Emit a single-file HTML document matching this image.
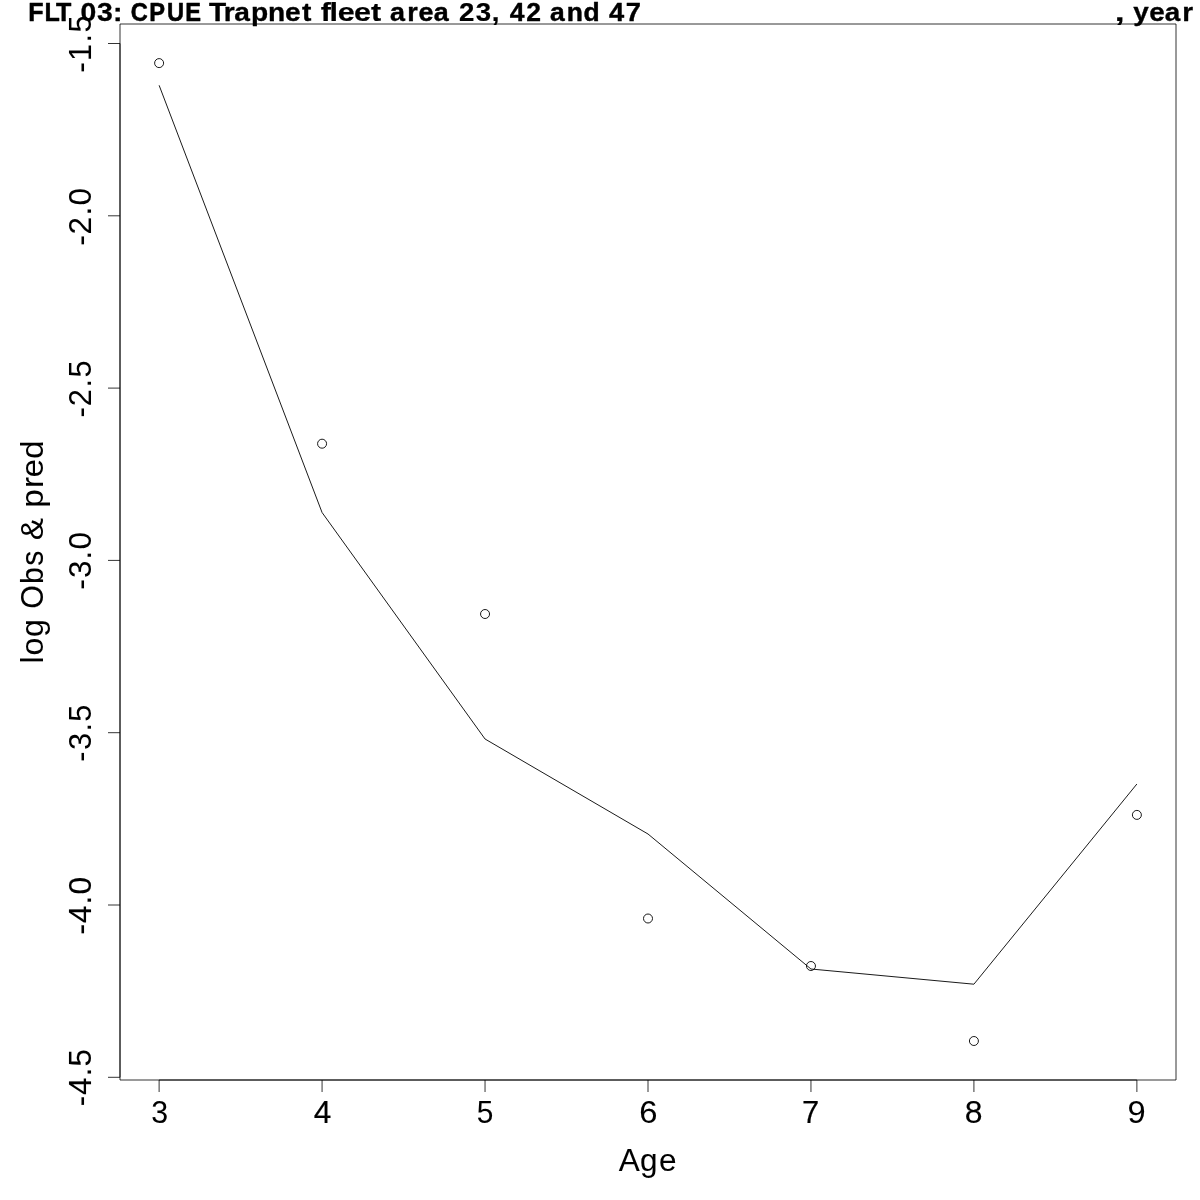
<!DOCTYPE html>
<html lang="en"><head><meta charset="utf-8"><title>FLT 03: CPUE Trapnet fleet area 23, 42 and 47, year</title>
<style>
html,body{margin:0;padding:0;background:#fff;width:1200px;height:1200px;overflow:hidden}
svg{display:block;position:absolute;left:0;top:0;will-change:transform}
g{font-family:"Liberation Sans",sans-serif;fill:#000;stroke:#000;stroke-width:0;stroke-linejoin:round}
.t{font-size:25.431px;font-weight:bold}
.a{font-size:31.789px}
</style></head><body>
<svg width="1200" height="1200" viewBox="0 0 1200 1200">
<rect width="1200" height="1200" fill="#fff"/>
<g style="fill:none;stroke-width:0.8">
<rect x="120" y="24" width="1056" height="1056"/>
<path d="M159.11 1080H1136.89M159.11 1080v12M322.07 1080v12M485.04 1080v12M648 1080v12M810.96 1080v12M973.92 1080v12M1136.89 1080v12M120 43.5V1077.3M120 43.5h-12M120 215.8h-12M120 388.1h-12M120 560.4h-12M120 732.7h-12M120 905h-12M120 1077.3h-12"/>
</g>
<g style="fill:none;stroke-width:0.9">
<polyline points="159.11,85.3 322.07,512.5 485.04,739 648,834 810.96,969 973.92,984.2 1136.89,784"/>
<circle cx="159.11" cy="63.1" r="4.5"/>
<circle cx="322.07" cy="443.7" r="4.5"/>
<circle cx="485.04" cy="614" r="4.5"/>
<circle cx="648" cy="918.5" r="4.5"/>
<circle cx="810.96" cy="966" r="4.5"/>
<circle cx="973.92" cy="1041" r="4.5"/>
<circle cx="1136.89" cy="814.9" r="4.5"/>
</g>
<g class="t">
<text transform="translate(0 20.8) scale(0.9863 1)" x="28.58 45.11 56.69" stroke-width="0.493">FLT</text>
<text transform="translate(0 20.8) scale(1.1137 1)" x="72.2 87.07 101.57" stroke-width="0.308">03:</text>
<text transform="translate(0 20.8) scale(0.9293 1)" x="140.67 160.75 179.58 199.3" stroke-width="0.552">CPUE</text>
<text transform="translate(0 20.8) scale(1.1068 1)" x="188.94 202.26 211.62 226.81 242.06 257.56 272.83" stroke-width="0.317">Trapnet</text>
<text transform="translate(0 20.8) scale(1.198 1)" x="267.84 274.97 281.99 295.46 309.78" stroke-width="0.215">fleet</text>
<text transform="translate(0 20.8) scale(1.0572 1)" x="368.81 385.2 395.86 410.35" stroke-width="0.418">area</text>
<text transform="translate(0 20.8) scale(1.0871 1)" x="422.28 437.55 452.29" stroke-width="0.201">23,</text>
<text transform="translate(0 20.8) scale(1.0435 1)" x="488.45 504.43" stroke-width="0.348">42</text>
<text transform="translate(0 20.8) scale(1.0398 1)" x="529.02 545.07 561.24" stroke-width="0.451">and</text>
<text transform="translate(0 20.8) scale(1.0743 1)" x="566.99 582.39" stroke-width="0.365">47</text>
<text transform="translate(0 20.8) scale(1.4816 1)" x="752.22">,</text>
<text transform="translate(0 20.8) scale(1.0958 1)" x="1034.2 1048.74 1062.84 1078.83" stroke-width="0.318">year</text>
</g>
<g class="a">
<text transform="translate(0 1171) scale(0.9924 1)" x="623.47 644.98 664.12" stroke-width="0.062">Age</text>
</g>
<g class="a">
<text transform="translate(43.4 552) rotate(-90) scale(1.0099 1)" x="-110.43 -102.52 -84.18">log</text>
<text transform="translate(43.4 552) rotate(-90) scale(0.952 1)" x="-59.68 -33.55 -14.44" stroke-width="0.099">Obs</text>
<text transform="translate(43.4 552) rotate(-90) scale(1.0507 1)" x="11.11">&amp;</text>
<text transform="translate(43.4 552) rotate(-90) scale(1.0525 1)" x="42.07 60.87 70.88 88.48">pred</text>
</g>
<g class="a">
<text transform="translate(91 43.5) rotate(-90) scale(0.9645 1)" x="-30.03 -18.25 1.17 11.47" stroke-width="0.073">-1.5</text>
<text transform="translate(91 216.4) rotate(-90) scale(0.9883 1)" x="-29.44 -18.27 1.03 11.09" stroke-width="0.07">-2.0</text>
<text transform="translate(91 388.5) rotate(-90) scale(0.9673 1)" x="-29.96 -18.47 1.15 11.41" stroke-width="0.025">-2.5</text>
<text transform="translate(91 560.4) rotate(-90) scale(0.9866 1)" x="-29.48 -17.84 1.04 11.13" stroke-width="0.052">-3.0</text>
<text transform="translate(91 732.7) rotate(-90) scale(0.9659 1)" x="-30 -18.04 1.16 11.43" stroke-width="0.023">-3.5</text>
<text transform="translate(91 905.4) rotate(-90) scale(1.0009 1)" x="-29.13 -17.76 0.97 10.84" stroke-width="0.121">-4.0</text>
<text transform="translate(91 1077.3) rotate(-90) scale(0.9808 1)" x="-29.62 -17.94 1.08 11.13" stroke-width="0.101">-4.5</text>
</g>
<g class="a">
<text transform="translate(159.71 1122.5) scale(0.9554 1)" x="-8.81" stroke-width="0.044">3</text>
<text transform="translate(322.57 1122.5) scale(0.9949 1)" x="-8.85" stroke-width="0.184">4</text>
<text transform="translate(485.24 1122.5) scale(0.9389 1)" x="-8.98" stroke-width="0.028">5</text>
<text transform="translate(648.4 1122.5) scale(1.0296 1)" x="-8.85" stroke-width="0.079">6</text>
<text transform="translate(810.76 1122.5) scale(0.9731 1)" x="-8.91" stroke-width="0.209">7</text>
<text transform="translate(973.62 1122.5) scale(1.0056 1)" x="-8.85" stroke-width="0.133">8</text>
<text transform="translate(1136.69 1122.5) scale(1.0275 1)" x="-8.94" stroke-width="0.053">9</text>
</g>
</svg>
</body></html>
